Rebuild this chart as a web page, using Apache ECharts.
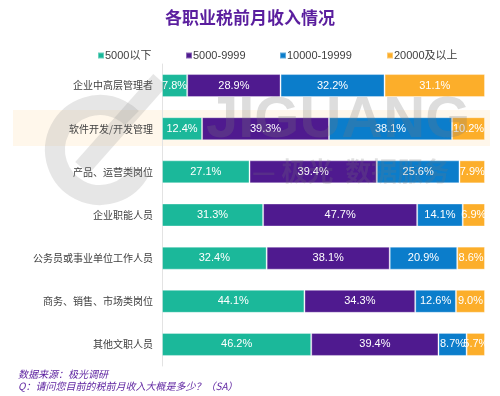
<!DOCTYPE html>
<html>
<head>
    <meta charset="utf-8" />
    <title>各职业税前月收入情况</title>
    <script src="https://cdn.jsdelivr.net/npm/echarts@6/dist/echarts.min.js"></script>
    <style>
        html, body { margin: 0; padding: 0; background: #fff; }
    </style>
</head>
<body>
    <div id="main" style="width: 500px;height:396px;"></div>
    <script type="text/javascript">
        // 职业类别（从上到下）
        var jobs = ['企业中高层管理者', '软件开发/开发管理', '产品、运营类岗位', '企业职能人员',
            '公务员或事业单位工作人员', '商务、销售、市场类岗位', '其他文职人员'];
        // 收入区间
        var levels = ['5000以下', '5000-9999', '10000-19999', '20000及以上'];
        // 各区间占比 (%)
        var below5k = [7.8, 12.4, 27.1, 31.3, 32.4, 44.1, 46.2];
        var from5k = [28.9, 39.3, 39.4, 47.7, 38.1, 34.3, 39.4];
        var from10k = [32.2, 38.1, 25.6, 14.1, 20.9, 12.6, 8.7];
        var above20k = [31.1, 10.2, 7.9, 6.9, 8.6, 9.0, 5.7];

        var colors = ['#1bb89a', '#4f1a8f', '#0b7dcb', '#fcae2a'];
        var values = [below5k, from5k, from10k, above20k];
        var legendLeft = [92, 180, 274, 381];

        var myChart = echarts.init(document.getElementById('main'));

        var series = [];
        var legends = [];
        for (var i = 0; i < levels.length; i++) {
            series.push({
                name: levels[i],
                type: 'bar',
                stack: 'total',
                barWidth: 23,
                data: values[i],
                itemStyle: {
                    color: colors[i],
                    borderColor: 'rgba(255,255,255,0.35)',
                    borderWidth: 1
                },
                label: {
                    show: true,
                    position: 'inside',
                    color: '#fff',
                    fontSize: 11,
                    fontFamily: 'Liberation Sans, Arial, sans-serif',
                    formatter: function (p) { return p.value.toFixed(1) + '%'; }
                }
            });
            // 每个图例单独定位
            legends.push({
                data: [levels[i]],
                left: legendLeft[i],
                top: 45,
                itemWidth: 6,
                itemHeight: 6,
                itemGap: 0,
                icon: 'rect',
                textStyle: {
                    color: '#404040',
                    fontSize: 11,
                    padding: [0, 0, 0, -4],
                    fontFamily: 'Liberation Sans, Noto Sans CJK SC, sans-serif'
                }
            });
        }

        var option = {
            title: {
                text: '各职业税前月收入情况',
                left: 'center',
                top: 4,
                textStyle: {
                    color: '#5a1e9e',
                    fontSize: 17,
                    fontWeight: 'bold',
                    fontFamily: 'Noto Sans CJK SC'
                }
            },
            legend: legends,
            grid: {
                left: 162,
                right: 15,
                top: 64,
                bottom: 30
            },
            xAxis: {
                type: 'value',
                min: 0,
                max: 100,
                show: false
            },
            yAxis: {
                type: 'category',
                data: jobs,
                inverse: true,
                axisLine: { show: true, lineStyle: { color: '#e3e3e3', width: 1 } },
                axisTick: { show: false },
                axisLabel: {
                    color: '#404040',
                    fontSize: 10,
                    margin: 9,
                    fontFamily: 'Noto Sans CJK SC'
                }
            },
            graphic: [
                // 水印：浅橙色底带
                {
                    type: 'rect',
                    z: -10,
                    shape: { x: 13, y: 110, width: 477, height: 36 },
                    style: { fill: 'rgba(252,200,120,0.15)' }
                },
                // 水印：灰色 logo
                {
                    type: 'arc',
                    z: 100,
                    shape: { cx: 100, cy: 150, r: 45, startAngle: Math.PI * 0.15, endAngle: Math.PI * 1.75 },
                    style: { stroke: 'rgba(140,140,140,0.22)', lineWidth: 20, fill: 'none' }
                },
                {
                    type: 'line',
                    z: 100,
                    shape: { x1: 82, y1: 168, x2: 160, y2: 80 },
                    style: { stroke: 'rgba(140,140,140,0.22)', lineWidth: 18 }
                },
                {
                    type: 'text',
                    left: 206,
                    top: 92,
                    z: 100,
                    style: {
                        text: 'JIGUANG',
                        fontSize: 58,
                        fontWeight: 'bold',
                        fontFamily: 'Liberation Sans',
                        fill: 'rgba(120,120,120,0.25)'
                    }
                },
                {
                    type: 'text',
                    left: 252,
                    top: 158,
                    z: 100,
                    style: {
                        text: '— 极光  数据服务',
                        fontSize: 26,
                        fontWeight: 'bold',
                        fontFamily: 'Noto Sans CJK SC',
                        fill: 'rgba(120,120,120,0.22)'
                    }
                },
                {
                    type: 'text',
                    left: 18,
                    top: 368,
                    style: {
                        text: '数据来源：极光调研\nQ：请问您目前的税前月收入大概是多少？（SA）',
                        fontSize: 10,
                        lineHeight: 12,
                        fontStyle: 'italic',
                        fontFamily: 'Noto Sans CJK SC',
                        fill: '#5a1e9e'
                    }
                }
            ],
            series: series
        };
        myChart.setOption(option);
    </script>
</body>
</html>
